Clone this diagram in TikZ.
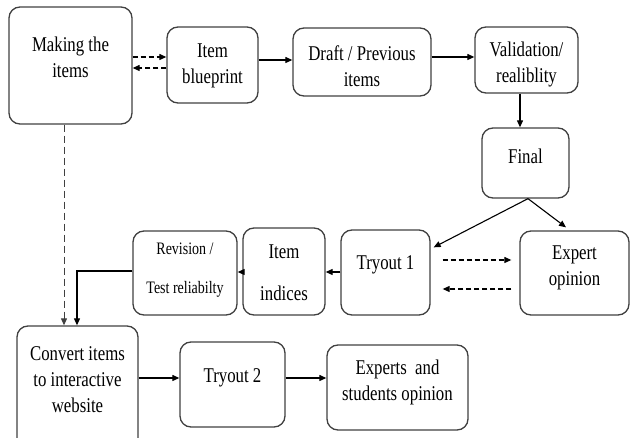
\documentclass[tikz,border=0pt]{standalone}
\usepackage{fontspec}
\setmainfont[FakeStretch=0.8]{Liberation Serif}
\usetikzlibrary{arrows.meta,calc}
\begin{document}
\begin{tikzpicture}[x=1pt,y=-1pt,
  box/.style={draw=black!75, line width=1.3pt, rounded corners=11pt, inner sep=0pt},
  lbl/.style={font=\fontsize{21}{26}\selectfont, align=center, inner sep=0pt},
  conn/.style={line width=1.1pt, -{Triangle[length=7pt,width=6pt]}},
  dconn/.style={conn, dash pattern=on 5pt off 3pt},
]
\useasboundingbox (0,0) rectangle (630,438);
\clip (0,0) rectangle (630,438);
% boxes
\node[box, minimum width=123pt, minimum height=117pt] (make) at (70.5,65.5) {};
\node[box, minimum width=91pt, minimum height=76pt] (blue) at (212.5,65) {};
\node[box, minimum width=138pt, minimum height=68pt] (draft) at (362,62) {};
\node[box, minimum width=103pt, minimum height=66pt] (valid) at (526.5,60) {};
\node[box, minimum width=87pt, minimum height=70pt] (final) at (525.5,163) {};
\node[box, minimum width=89pt, minimum height=85pt] (try1) at (385.5,272.5) {};
\node[box, minimum width=109pt, minimum height=84pt] (expert) at (574.5,273) {};
\node[box, minimum width=82pt, minimum height=87pt] (indices) at (284,271.5) {};
\node[box, minimum width=104pt, minimum height=84pt] (revision) at (185,273) {};
\node[box, minimum width=121pt, minimum height=130pt] (convert) at (77.5,391) {};
\node[box, minimum width=105pt, minimum height=85pt] (try2) at (232.5,384.5) {};
\node[box, minimum width=141pt, minimum height=85pt] (experts) at (397.5,387.5) {};
% labels
\node[lbl] (tmake) at (70.5,57) {Making the\\items};
\node[lbl] (tblue) at (212.5,66) {Item\\blueprint};
\node[lbl] (tdraft) at (362,66.5) {Draft / Previous\\items};
\node[lbl] (tvalid) at (526.5,64.5) {Validation/\\realiblity};
\node[lbl] (tfinal) at (525.5,156) {Final};
\node[lbl] (ttry1) at (385.5,265) {Tryout 1};
\node[lbl] (texpert) at (574.5,267.5) {Expert\\opinion};
\node[lbl, font=\fontsize{21}{42}\selectfont] (tindices) at (284,273) {Item\\indices};
\node[lbl, font=\fontsize{17.5}{39}\selectfont] (trevision) at (185,270.5) {Revision /\\Test reliabilty};
\node[lbl] (tconvert) at (77.5,379.5) {Convert items\\to interactive\\website};
\node[lbl] (ttry2) at (232.5,378) {Tryout 2};
\node[lbl] (texperts) at (397.5,382.5) {Experts\ \ and\\students opinion};
% connectors
\draw[dconn] (make.east |- 0,57) -- (blue.west |- 0,57);
\draw[dconn] (blue.west |- 0,68) -- (make.east |- 0,68);
\draw[conn] (blue.east |- 0,60) -- (draft.west |- 0,60);
\draw[conn] (draft.east |- 0,57) -- (valid.west |- 0,57);
\draw[conn] (valid.south -| 520,0) -- (final.north -| 520,0);
\coordinate (fsplit) at (final.south -| 528,0);
\draw[conn] (fsplit) -- ($(try1.north east)+(3,18)$);
\draw[conn] (fsplit) -- ($(expert.north -| 566,0)+(0,-3)$);
\draw[dconn, shorten <=12pt, shorten >=8pt] (try1.east |- 0,260) -- (expert.west |- 0,260);
\draw[dconn, shorten <=8pt, shorten >=12pt] (expert.west |- 0,289) -- (try1.east |- 0,289);
\draw[conn] (try1.west |- 0,272) -- (indices.east |- 0,272);
\draw[conn] (indices.west |- 0,272) -- (revision.east |- 0,272);
\draw[conn] (revision.west |- 0,271) -| (convert.north -| 77,0);
\draw[conn, draw=black!75, line width=1pt, dash pattern=on 7pt off 4pt] (make.south -| 64,0) -- (convert.north -| 64,0);
\draw[conn] (convert.east |- 0,378) -- (try2.west |- 0,378);
\draw[conn] (try2.east |- 0,378) -- (experts.west |- 0,378);
\end{tikzpicture}
\end{document}
